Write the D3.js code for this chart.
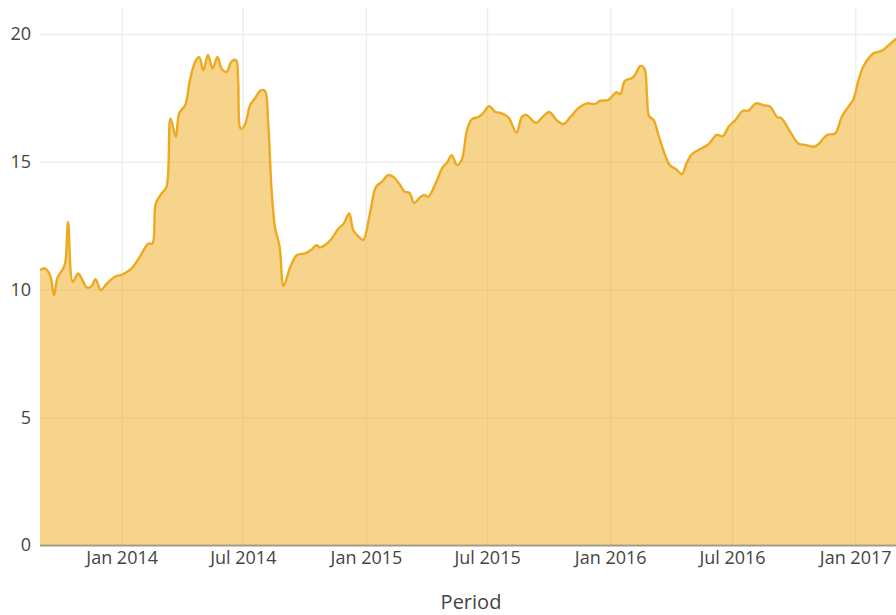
<!DOCTYPE html>
<html>
<head>
<meta charset="utf-8">
<script src="https://cdn.jsdelivr.net/npm/d3@7"></script>
<style>
  body { margin: 0; background: #fff; }
  .tick text { font-family: "Open Sans", sans-serif; fill: #444; }
</style>
</head>
<body>
<svg id="chart" width="896" height="615"></svg>
<script>
// one date per reading
const dates = [
  '2013-09-01','2013-09-08','2013-09-16','2013-09-22','2013-09-27','2013-10-06','2013-10-09','2013-10-13',
  '2013-10-20','2013-10-28','2013-11-02','2013-11-10','2013-11-17','2013-11-23','2013-12-01','2013-12-10',
  '2013-12-22','2014-01-03','2014-01-16','2014-01-28','2014-02-10','2014-02-16','2014-02-21','2014-03-02',
  '2014-03-09','2014-03-15','2014-03-23','2014-03-28','2014-04-06','2014-04-13','2014-04-21','2014-04-27',
  '2014-05-03','2014-05-10','2014-05-17','2014-05-24','2014-05-31','2014-06-07','2014-06-14','2014-06-21',
  '2014-06-24','2014-06-28','2014-07-04','2014-07-12','2014-07-19','2014-07-28','2014-08-03','2014-08-08',
  '2014-08-13','2014-08-18','2014-08-25','2014-08-31','2014-09-10','2014-09-20','2014-10-02','2014-10-12',
  '2014-10-19','2014-10-24','2014-11-01','2014-11-11','2014-11-21','2014-11-29','2014-12-07','2014-12-13',
  '2014-12-22','2014-12-28','2015-01-07','2015-01-16','2015-01-25','2015-02-03','2015-02-11','2015-02-20',
  '2015-02-28','2015-03-07','2015-03-14','2015-03-23','2015-03-29','2015-04-04','2015-04-14','2015-04-26',
  '2015-05-02','2015-05-09','2015-05-17','2015-05-24','2015-06-01','2015-06-08','2015-06-18','2015-06-25',
  '2015-07-04','2015-07-13','2015-07-23','2015-08-02','2015-08-14','2015-08-22','2015-08-29','2015-09-12',
  '2015-09-23','2015-10-02','2015-10-13','2015-10-23','2015-11-02','2015-11-14','2015-11-27','2015-12-09',
  '2015-12-17','2015-12-29','2016-01-10','2016-01-16','2016-01-23','2016-02-02','2016-02-07','2016-02-15',
  '2016-02-21','2016-02-25','2016-02-28','2016-03-06','2016-03-13','2016-03-23','2016-03-30','2016-04-09',
  '2016-04-17','2016-04-24','2016-05-02','2016-05-14','2016-05-27','2016-06-08','2016-06-17','2016-06-26',
  '2016-07-06','2016-07-17','2016-07-25','2016-08-06','2016-08-16','2016-08-27','2016-09-06','2016-09-13',
  '2016-09-23','2016-10-08','2016-10-18','2016-10-31','2016-11-07','2016-11-20','2016-12-02','2016-12-12',
  '2016-12-22','2016-12-29','2017-01-06','2017-01-13','2017-01-28','2017-02-10','2017-02-20','2017-03-02',
  '2017-03-09'
];
const values = [
  10.76,10.83,10.57,9.78,10.45,10.84,11.09,12.65,
  10.3,10.63,10.45,10.08,10.13,10.4,9.98,10.24,
  10.5,10.6,10.83,11.28,11.8,11.8,13.37,13.77,
  14.02,16.7,15.98,16.9,17.22,18.2,18.92,19.1,
  18.58,19.18,18.66,19.1,18.62,18.52,18.92,18.98,
  18.2,16.3,16.44,17.22,17.48,17.8,17.78,16.5,
  13.9,12.46,11.68,10.14,10.89,11.35,11.42,11.57,
  11.74,11.65,11.74,12.0,12.39,12.59,12.98,12.33,
  12.04,11.94,12.98,14.02,14.22,14.48,14.41,14.13,
  13.83,13.79,13.4,13.61,13.7,13.63,14.09,14.8,
  14.96,15.26,14.87,15.07,16.24,16.66,16.76,16.9,
  17.18,16.96,16.9,16.74,16.14,16.76,16.83,16.53,
  16.79,16.95,16.63,16.48,16.74,17.09,17.29,17.26,
  17.39,17.42,17.72,17.65,18.17,18.27,18.4,18.75,
  18.66,17.55,16.79,16.63,16.05,15.26,14.87,14.7,
  14.52,14.94,15.3,15.49,15.69,16.05,16.0,16.37,
  16.63,17.0,17.0,17.29,17.22,17.16,16.76,16.7,
  16.3,15.72,15.66,15.59,15.69,16.05,16.11,16.76,
  17.16,17.42,18.2,18.72,19.24,19.35,19.57,19.79,
  19.95
];
const yTicks = [0, 5, 10, 15, 20];
const xTicks = ['2014-01-01','2014-07-01','2015-01-01','2015-07-01','2016-01-01','2016-07-01','2017-01-01'];

const parse = d3.timeParse('%Y-%m-%d');
const data = dates.map((d, i) => ({date: parse(d), value: values[i]}));

const svg = d3.select('#chart');
const margin = {top: 7, right: 0, bottom: 70, left: 40};
const width = +svg.attr('width') - margin.left - margin.right;
const height = +svg.attr('height') - margin.top - margin.bottom;

const x = d3.scaleTime()
    .domain([parse('2013-09-01'), parse('2017-03-03')])
    .range([0, width]);
const y = d3.scaleLinear()
    .domain([0, 21.06])
    .range([height, 0]);

svg.append('defs').append('clipPath').attr('id', 'plot-clip')
    .append('rect').attr('width', width).attr('height', height + 2);

const g = svg.append('g')
    .attr('transform', 'translate(' + margin.left + ',' + margin.top + ')');

// grid
g.append('g')
    .call(d3.axisLeft(y).tickValues(yTicks.filter(t => t > 0)).tickSize(-width).tickFormat(''))
    .call(s => s.select('.domain').remove())
    .selectAll('line').attr('stroke', '#eee').attr('stroke-width', 1.5);
g.append('g')
    .attr('transform', 'translate(0,' + height + ')')
    .call(d3.axisBottom(x).tickValues(xTicks.map(parse)).tickSize(-height).tickFormat(''))
    .call(s => s.select('.domain').remove())
    .selectAll('line').attr('stroke', '#eee').attr('stroke-width', 1.5);

// zero line
g.append('line')
    .attr('x1', 0).attr('x2', width)
    .attr('y1', y(0) + 0.5).attr('y2', y(0) + 0.5)
    .attr('stroke', '#9a9a9a').attr('stroke-width', 2);

const plot = g.append('g').attr('clip-path', 'url(#plot-clip)');

const area = d3.area()
    .curve(d3.curveCatmullRom.alpha(0.5))
    .x(d => x(d.date))
    .y0(y(0))
    .y1(d => y(d.value));
const line = d3.line()
    .curve(d3.curveCatmullRom.alpha(0.5))
    .x(d => x(d.date))
    .y(d => y(d.value));

plot.append('path')
    .datum(data)
    .attr('d', area)
    .attr('fill', 'rgba(238,170,26,0.5)');
plot.append('path')
    .datum(data)
    .attr('d', line)
    .attr('fill', 'none')
    .attr('stroke', '#eeaa1e')
    .attr('stroke-width', 2.4);

// axis labels
g.append('g')
    .call(d3.axisLeft(y).tickValues(yTicks).tickSize(0).tickPadding(9))
    .call(s => s.select('.domain').remove())
    .selectAll('text').style('font-size', '18px');
g.append('g')
    .attr('transform', 'translate(0,' + height + ')')
    .call(d3.axisBottom(x).tickValues(xTicks.map(parse)).tickSize(0).tickPadding(6)
        .tickFormat(d3.timeFormat('%b %Y')))
    .call(s => s.select('.domain').remove())
    .selectAll('text').style('font-size', '18px');

svg.append('text')
    .attr('x', 471)
    .attr('y', 609)
    .attr('text-anchor', 'middle')
    .style('font-family', '"Open Sans", sans-serif')
    .style('font-size', '20px')
    .style('fill', '#444')
    .text('Period');
</script>
</body>
</html>
